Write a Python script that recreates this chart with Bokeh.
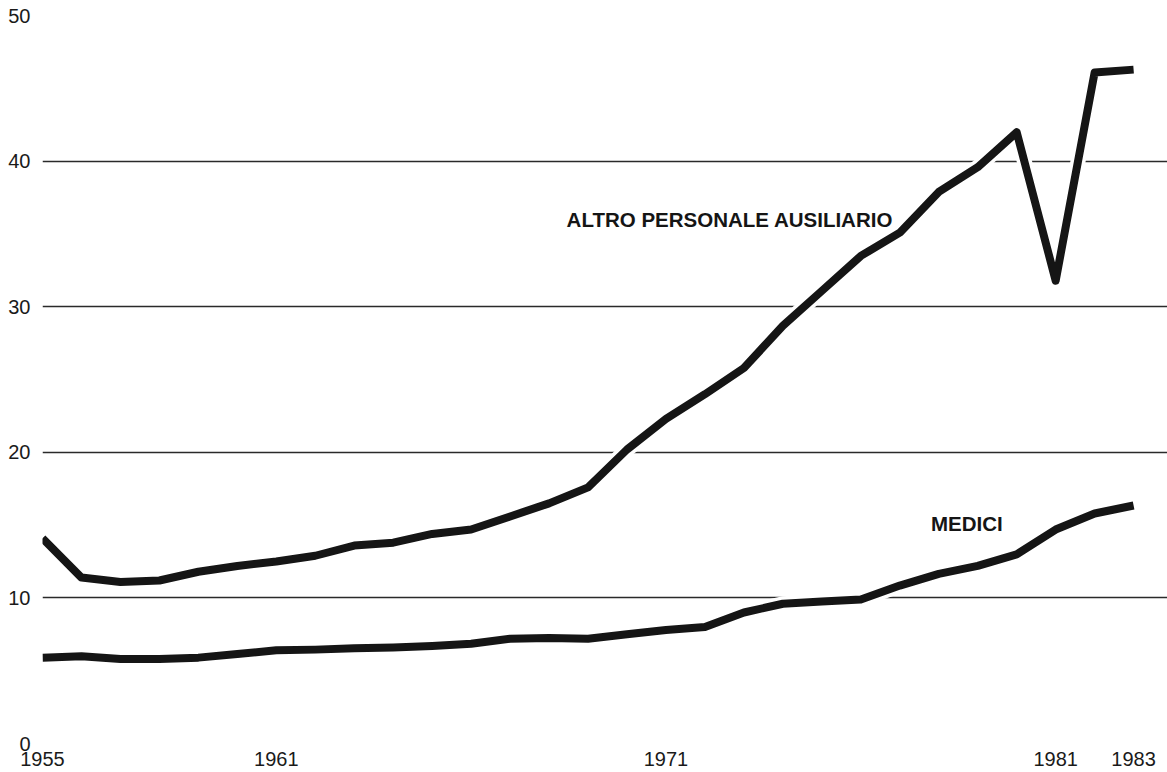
from bokeh.plotting import figure
from bokeh.models import FixedTicker, Label, ColumnDataSource
from bokeh.embed import file_html
from bokeh.resources import INLINE

years = [1955, 1956, 1957, 1958, 1959, 1960, 1961, 1962, 1963, 1964,
         1965, 1966, 1967, 1968, 1969, 1970, 1971, 1972, 1973, 1974,
         1975, 1976, 1977, 1978, 1979, 1980, 1981, 1982, 1983]
altro = [14.1, 11.4, 11.1, 11.2, 11.8, 12.2, 12.5, 12.9, 13.6, 13.8,
         14.4, 14.7, 15.6, 16.5, 17.6, 20.2, 22.3, 24.0, 25.8, 28.7,
         31.1, 33.5, 35.1, 37.9, 39.6, 42.0, 31.8, 46.1, 46.3]
medici = [5.9, 6.0, 5.8, 5.8, 5.9, 6.15, 6.4, 6.45, 6.55, 6.6,
          6.7, 6.85, 7.2, 7.25, 7.2, 7.5, 7.8, 8.0, 9.0, 9.6,
          9.75, 9.9, 10.85, 11.65, 12.2, 13.0, 14.7, 15.8, 16.35]
x_ticks = [1955, 1961, 1971, 1981, 1983]
y_ticks = [0, 10, 20, 30, 40, 50]
grid_values = [10, 20, 30, 40]
label_altro = "ALTRO PERSONALE AUSILIARIO"
label_medici = "MEDICI"

FONT = "Liberation Sans"
INK = "#151515"

src = ColumnDataSource(dict(year=years, altro=altro, medici=medici))

p = figure(width=1167, height=772, output_backend="svg", toolbar_location=None,
           x_range=(1955, 1983.87), y_range=(0, 51.05),
           min_border_left=42, min_border_right=0, min_border_top=0,
           min_border_bottom=29)
p.outline_line_color = None
p.background_fill_color = "white"
p.border_fill_color = "white"

# grid
p.xgrid.visible = False
p.ygrid.ticker = FixedTicker(ticks=grid_values)
p.ygrid.grid_line_color = "#2a2a2a"
p.ygrid.grid_line_width = 1.4

# axes
for ax in (p.xaxis[0], p.yaxis[0]):
    ax.axis_line_color = None
    ax.major_tick_line_color = None
    ax.minor_tick_line_color = None
    ax.major_tick_out = 0
    ax.major_tick_in = 0
    ax.major_label_text_font = FONT
    ax.major_label_text_font_size = "20px"
    ax.major_label_text_color = "#1a1a1a"
p.xaxis[0].ticker = FixedTicker(ticks=x_ticks)
p.xaxis[0].major_label_standoff = 8
p.yaxis[0].ticker = FixedTicker(ticks=y_ticks)
p.yaxis[0].major_label_standoff = 12

# white halo under lines (breaks the gridlines like in the print)
for col in ("altro", "medici"):
    p.line("year", col, source=src, line_color="white", line_width=15,
           line_join="round")
for col in ("altro", "medici"):
    p.line("year", col, source=src, line_color=INK, line_width=8,
           line_join="round")

p.add_layout(Label(x=1968.45, y=36.0, text=label_altro, text_font=FONT,
                   text_font_size="20.5px", text_font_style="bold",
                   text_color=INK, text_baseline="middle", text_align="left"))
p.add_layout(Label(x=1977.8, y=15.1, text=label_medici, text_font=FONT,
                   text_font_size="20.5px", text_font_style="bold",
                   text_color=INK, text_baseline="middle", text_align="left"))

open("out.html", "w").write(file_html(p, INLINE))
